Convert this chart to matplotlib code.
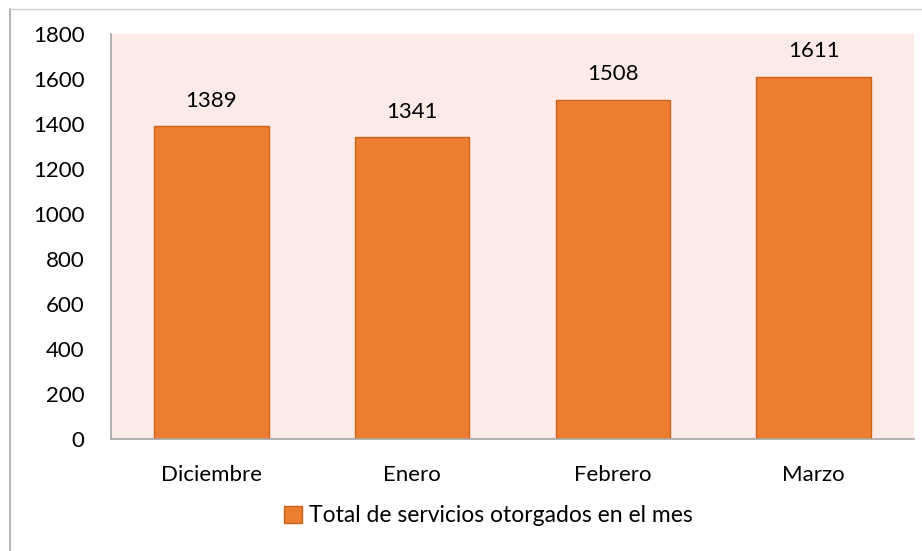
import matplotlib
matplotlib.use("Agg")
import matplotlib.pyplot as plt
from matplotlib.lines import Line2D
import numpy as np

# ── Data ──────────────────────────────────────────────────────────────────────
months = ["Diciembre", "Enero", "Febrero", "Marzo"]
services = [1389, 1341, 1508, 1611]
series_label = "Total de servicios otorgados en el mes"
y_ticks = [0, 200, 400, 600, 800, 1000, 1200, 1400, 1600, 1800]

BAR_COLOR = "#ED7D31"
EDGE_COLOR = "#C8651B"
BG_COLOR = "#FBEAE6"
FS = 16

plt.rcParams["font.family"] = ["Lato", "DejaVu Sans"]

W, H = 922, 551
fig = plt.figure(figsize=(W / 100, H / 100), dpi=100)
ax = fig.add_axes([111 / W, 1 - 439 / H, (914 - 111) / W, (439 - 34) / H])
ax.set_facecolor(BG_COLOR)

x = np.arange(len(months))
bars = ax.bar(x, services, width=0.57, color=BAR_COLOR, edgecolor=EDGE_COLOR,
              linewidth=1.0, label=series_label, zorder=2)

for xi, v in zip(x, services):
    ax.text(xi, v + 68, str(v), ha="center", va="bottom", fontsize=FS)

ax.set_xlim(-0.5, len(months) - 0.5)
ax.set_ylim(0, 1800)
ax.set_yticks(y_ticks)
ax.set_xticks(x)
ax.set_xticklabels(months, fontsize=FS)
ax.tick_params(axis="y", labelsize=FS, length=0, pad=19)
ax.tick_params(axis="x", length=0, pad=19)

for side in ["top", "right"]:
    ax.spines[side].set_visible(False)
ax.spines["left"].set_color("#A6A6A6")
ax.spines["bottom"].set_color("#A6A6A6")
ax.spines["left"].set_linewidth(1.2)
ax.spines["bottom"].set_linewidth(1.2)

leg = fig.legend(handles=[bars], labels=[series_label], loc="center",
                 bbox_to_anchor=(488 / W, 1 - 516 / H), frameon=False,
                 fontsize=16.5, handlelength=0.8, handleheight=0.8,
                 handletextpad=0.3)

# chart frame (only left and top edges visible)
fig.add_artist(Line2D([9.5 / W, 9.5 / W], [0, 1 - 8.5 / H],
                      transform=fig.transFigure, color="#A6A6A6", lw=1.2))
fig.add_artist(Line2D([9.5 / W, 1], [1 - 8.5 / H, 1 - 8.5 / H],
                      transform=fig.transFigure, color="#D0D0D0", lw=1.0))

fig.savefig("out.png", dpi=100)
